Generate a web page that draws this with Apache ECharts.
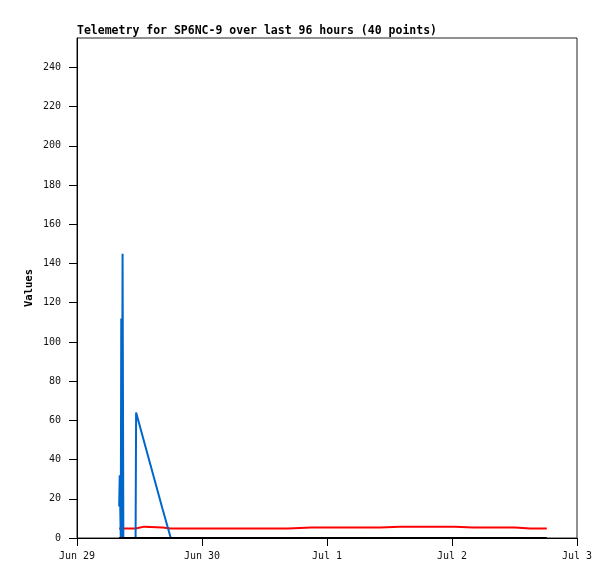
<!DOCTYPE html>
<html>
<head>
<meta charset="utf-8">
<script src="https://cdn.jsdelivr.net/npm/echarts@6/dist/echarts.min.js"></script>
<style>html,body{margin:0;padding:0;background:#fff}#c{width:615px;height:579px}</style>
</head>
<body>
<div id="c"></div>
<script>
// hours since Jun 29 00:00
var hours = [8.1, 8.2, 8.3, 8.4, 8.5, 8.6, 8.75, 8.9, 9.5, 11.25, 11.35, 12.9, 13.0, 16.4, 16.5, 18.0, 21, 25, 29, 33, 37, 40.5, 40.6, 45, 50, 55, 58.2, 58.3, 62, 66, 70, 72.6, 72.7, 76, 80, 84.1, 84.2, 87, 89, 90.2];
var blueValues = [16, 32, 16, 0, 112, 0, 145, 0, 0, 0, 64, 49, 48, 15, 14, 0, 0, 0, 0, 0, 0, 0, 0, 0, 0, 0, 0, 0, 0, 0, 0, 0, 0, 0, 0, 0, 0, 0, 0, 0];
var redValues = [4.8, 4.8, 4.8, 4.8, 4.8, 4.8, 4.8, 4.8, 4.8, 4.8, 5.8, 5.8, 5.3, 5.3, 4.8, 4.8, 4.8, 4.8, 4.8, 4.8, 4.8, 4.8, 5.3, 5.3, 5.3, 5.3, 5.3, 5.8, 5.8, 5.8, 5.8, 5.8, 5.3, 5.3, 5.3, 5.3, 4.8, 4.8, 4.8, 4.8];
var blackValues = [0, 0, 0, 0, 0, 0, 0, 0, 0, 0, 0, 0, 0, 0, 0, 0, 0, 0, 0, 0, 0, 0, 0, 0, 0, 0, 0, 0, 0, 0, 0, 0, 0, 0, 0, 0, 0, 0, 0, 0];
var xTickLabels = ["Jun 29", "Jun 30", "Jul 1", "Jul 2", "Jul 3"];
var yTicks = [0, 20, 40, 60, 80, 100, 120, 140, 160, 180, 200, 220, 240];

function pairs(vals){ return hours.map(function(h,i){ return [h, vals[i]]; }); }

var chart = echarts.init(document.getElementById('c'), null, {renderer:'canvas'});
var mono = "'DejaVu Sans Mono', 'Liberation Mono', monospace";
chart.setOption({
  animation: false,
  backgroundColor: '#fff',
  title: {
    text: 'Telemetry for SP6NC-9 over last 96 hours (40 points)',
    left: 77, top: 25, padding: 0,
    textStyle: {fontFamily: mono, fontSize: 11.5, fontWeight: 'bold', color: '#000'}
  },
  grid: {left: 77, right: 38, top: 38, bottom: 41, show: true, borderColor: '#222', borderWidth: 1},
  xAxis: {
    type: 'value', min: 0, max: 96, interval: 24,
    axisLine: {show: true, lineStyle: {color: '#000', width: 1}},
    axisTick: {show: true, length: 8, lineStyle: {color: '#000'}},
    splitLine: {show: false},
    axisLabel: {
      fontFamily: mono, fontSize: 10, color: '#111', margin: 13,
      formatter: function(v){ return xTickLabels[Math.round(v/24)]; }
    }
  },
  yAxis: {
    type: 'value', min: 0, max: 255,
    name: 'Values', nameLocation: 'middle', nameGap: 42, nameMoveOverlap: false,
    nameTextStyle: {fontFamily: mono, fontSize: 10.5, fontWeight: 'bold', color: '#000'},
    axisLine: {show: true, lineStyle: {color: '#000', width: 1}},
    axisTick: {show: true, length: 8, customValues: yTicks, lineStyle: {color: '#000'}},
    splitLine: {show: false},
    axisLabel: {fontFamily: mono, fontSize: 10, color: '#111', margin: 16, customValues: yTicks}
  },
  series: [
    {type: 'line', data: pairs(redValues), showSymbol: false, lineStyle: {color: '#ff0000', width: 2}, itemStyle: {color: '#ff0000'}, z: 2},
    {type: 'line', data: pairs(blueValues), showSymbol: false, lineStyle: {color: '#0066cc', width: 2}, itemStyle: {color: '#0066cc'}, z: 3},
    {type: 'line', data: pairs(blackValues), showSymbol: false, lineStyle: {color: '#000', width: 2}, itemStyle: {color: '#000'}, z: 4}
  ]
});
</script>
</body>
</html>
